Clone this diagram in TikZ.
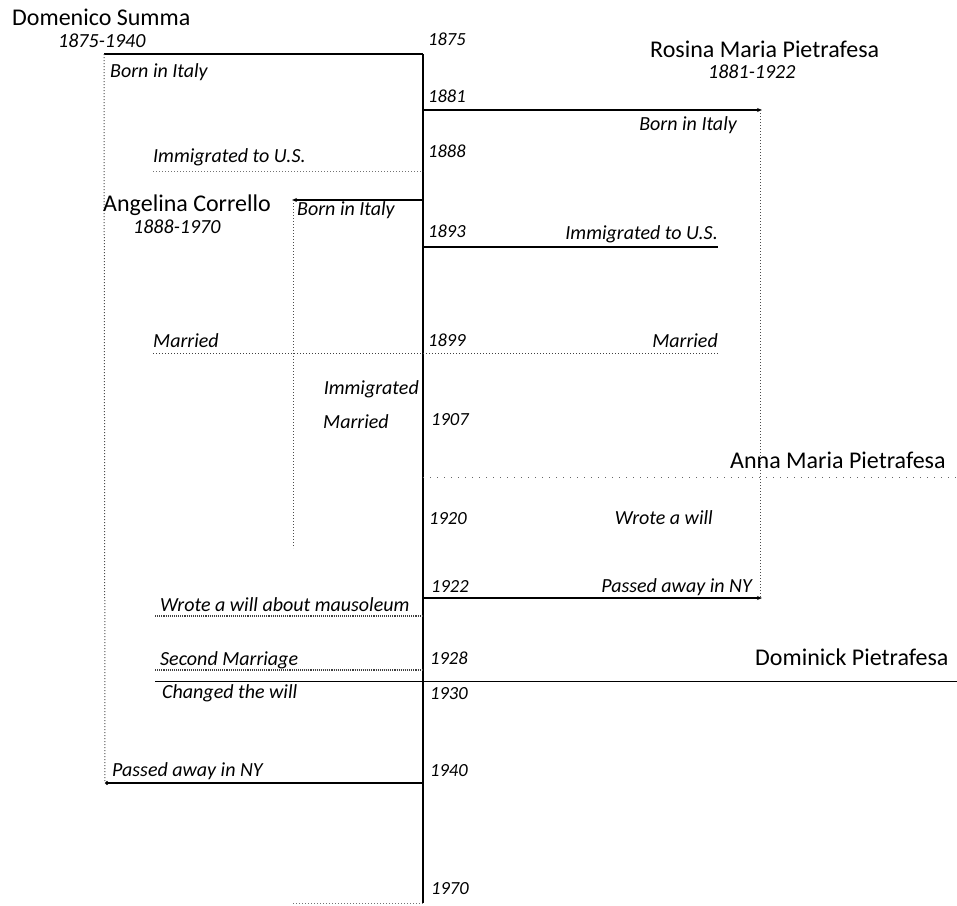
\documentclass[tikz,border=0pt]{standalone}
\usepackage{fontspec}
\setmainfont{Carlito}
\usetikzlibrary{arrows.meta}
\tikzset{
  pname/.style={inner sep=0pt,font=\fontsize{24}{26}\selectfont},
  plife/.style={inner sep=0pt,font=\fontsize{20}{22}\selectfont\itshape},
  evlab/.style={inner sep=0pt,font=\fontsize{20}{22}\selectfont\itshape},
  yrlab/.style={inner sep=0pt,anchor=base west,font=\fontsize{18.5}{20}\selectfont\itshape},
  axisline/.style={line width=2pt},
  solidev/.style={line width=1.1pt},
  thinev/.style={line width=0.8pt},
  dotev/.style={line width=1pt,dotted,black!75},
  lifeline/.style={line width=1pt,dotted,black!70},
  tipr/.style={-{Stealth[length=5pt,width=4pt]}},
  dotend/.style={{Circle[length=4pt]}-},
}
\begin{document}
\begin{tikzpicture}[x=1pt,y=-1pt]
\useasboundingbox (0,0) rectangle (957,905);
% axis coordinates
\coordinate (ytop) at (423,54);
\coordinate (ybot) at (423,903);
\coordinate (a1881) at (423,110);
\coordinate (a1888) at (423,171);
\coordinate (a1888b) at (423,200);
\coordinate (a1893) at (423,247);
\coordinate (a1899) at (423,353);
\coordinate (aAnna) at (423,477);
\coordinate (a1922) at (423,598);
\coordinate (aMaus) at (423,616);
\coordinate (a1928) at (423,670);
\coordinate (a1940) at (423,783);
% free ends
\coordinate (domtop) at (104,54);
\coordinate (domend) at (105,783);
\coordinate (rosA) at (762,110);
\coordinate (rosB) at (762,598);
\coordinate (rosv1) at (760,110);
\coordinate (rosv2) at (760,598);
\coordinate (imm1) at (153,171);
\coordinate (angA) at (292,200);
\coordinate (angv1) at (293,200);
\coordinate (angv2) at (293,548);
\coordinate (imm2) at (718,247);
\coordinate (marL) at (153,353);
\coordinate (marR) at (718,353);
\coordinate (annaR) at (957,477);
\coordinate (mausL) at (155,616);
\coordinate (secL) at (155,670);
\coordinate (domiL) at (155,681);
\coordinate (domiR) at (957,681);
\coordinate (angend) at (293,903);

% lines
\draw[axisline] (ytop) -- (ybot);
\draw[solidev] (domtop) -- (ytop);
\draw[lifeline] (domtop) -- (domend);
\draw[solidev,tipr] (a1881) -- (rosA);
\draw[lifeline] (rosv1) -- (rosv2);
\draw[dotev,black!55] (imm1) -- (a1888);
\draw[solidev,tipr] (a1888b) -- (angA);
\draw[lifeline] (angv1) -- (angv2);
\draw[solidev] (a1893) -- (imm2);
\draw[dotev] (marL) -- (marR);
\draw[line width=0.9pt,black!60,dash pattern=on 1pt off 6pt] (aAnna) -- (annaR);
\draw[solidev,tipr] (a1922) -- (rosB);
\draw[dotev,line width=1.1pt,densely dotted] (mausL) -- (aMaus);
\draw[dotev,line width=1.1pt,densely dotted] (secL) -- (a1928);
\draw[thinev] (domiL) -- (domiR);
\draw[solidev,dotend] (domend) -- (a1940);
\draw[lifeline,black!55] (angend) -- (ybot);

% people
\node[pname,anchor=base west] (dom) at (12,25) {Domenico Summa};
\node[plife,anchor=base west] (domlife) at (58,47) {1875-1940};
\node[pname,anchor=base west] (ros) at (650,57) {Rosina Maria Pietrafesa};
\node[plife,anchor=base west] (roslife) at (708,78) {1881-1922};
\node[pname,anchor=base west] (ang) at (103,211) {Angelina Corrello};
\node[plife,anchor=base west] (anglife) at (133,233) {1888-1970};
\node[pname,anchor=base west] (anna) at (730,468) {Anna Maria Pietrafesa};
\node[pname,anchor=base west] (domi) at (755,665) {Dominick Pietrafesa};

% years
\node[yrlab] (y1875) at (428,45) {1875};
\node[yrlab] (y1881) at (428,102) {1881};
\node[yrlab] (y1888) at (428,157) {1888};
\node[yrlab] (y1893) at (428,237) {1893};
\node[yrlab] (y1899) at (428,346) {1899};
\node[yrlab] (y1907) at (431,425) {1907};
\node[yrlab] (y1920) at (429,524) {1920};
\node[yrlab] (y1922) at (431,592) {1922};
\node[yrlab] (y1928) at (430,664) {1928};
\node[yrlab] (y1930) at (430,699) {1930};
\node[yrlab] (y1940) at (430,776) {1940};
\node[yrlab] (y1970) at (431,894) {1970};

% events
\node[evlab,anchor=base west] (e1) at (110,77) {Born in Italy};
\node[evlab,anchor=base east] (e2) at (737,130) {Born in Italy};
\node[evlab,anchor=base west] (e3) at (153,162) {Immigrated to U.S.};
\node[evlab,anchor=base west] (e4) at (297,215) {Born in Italy};
\node[evlab,anchor=base east] (e5) at (718,239) {Immigrated to U.S.};
\node[evlab,anchor=base west] (e6) at (153,347) {Married};
\node[evlab,anchor=base east] (e7) at (718,347) {Married};
\node[evlab,anchor=base east] (e8) at (419,394) {Immigrated};
\node[evlab,anchor=base west] (e9) at (323,428) {Married};
\node[evlab,anchor=base east] (e10) at (713,524) {Wrote a will};
\node[evlab,anchor=base east] (e11) at (752,592) {Passed away in NY};
\node[evlab,anchor=base west] (e12) at (160,611) {Wrote a will about mausoleum};
\node[evlab,anchor=base west] (e13) at (160,665) {Second Marriage};
\node[evlab,anchor=base west] (e14) at (162,698) {Changed the will};
\node[evlab,anchor=base west] (e15) at (112,776) {Passed away in NY};
\end{tikzpicture}
\end{document}
